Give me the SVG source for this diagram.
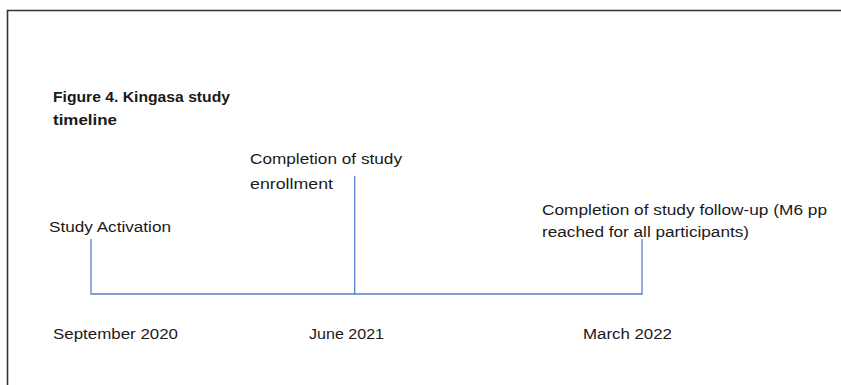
<svg xmlns="http://www.w3.org/2000/svg" width="841" height="385" viewBox="0 0 841 385">
  <style>
    text { font-family: "Liberation Sans", Arial, sans-serif; font-size: 15.5px; fill: #1a1a1a; }
    .title { font-weight: bold; }
    .frame { fill: none; stroke: #333333; stroke-width: 1.6; }
    .tick { fill: none; stroke: #5b7fc8; stroke-width: 1.3; }
  </style>
  <rect width="841" height="385" fill="#ffffff"/>
  <!-- outer frame (open on right and bottom) -->
  <path class="frame" d="M7.5 385 V10.5 H841"/>

  <g id="title">
    <text class="title" x="53" y="101.5" textLength="177" lengthAdjust="spacingAndGlyphs">Figure 4. Kingasa study</text>
    <text class="title" x="53" y="124.5" textLength="64" lengthAdjust="spacingAndGlyphs">timeline</text>
  </g>

  <!-- timeline axis and milestone ticks -->
  <g id="connectors">
    <path class="tick" d="M91 239 V294 H642 V239"/>
    <path class="tick" d="M354.7 176 V294"/>
  </g>

  <g id="milestone-activation">
    <text x="49" y="231.5" textLength="122" lengthAdjust="spacingAndGlyphs">Study Activation</text>
    <text x="53" y="339" textLength="125" lengthAdjust="spacingAndGlyphs">September 2020</text>
  </g>

  <g id="milestone-enrollment">
    <text x="250" y="163.5" textLength="152" lengthAdjust="spacingAndGlyphs">Completion of study</text>
    <text x="250" y="189" textLength="83" lengthAdjust="spacingAndGlyphs">enrollment</text>
    <text x="309" y="339" textLength="75" lengthAdjust="spacingAndGlyphs">June 2021</text>
  </g>

  <g id="milestone-followup">
    <text x="542" y="215" textLength="285" lengthAdjust="spacingAndGlyphs">Completion of study follow-up (M6 pp</text>
    <text x="542" y="237" textLength="207" lengthAdjust="spacingAndGlyphs">reached for all participants)</text>
    <text x="583" y="339" textLength="89" lengthAdjust="spacingAndGlyphs">March 2022</text>
  </g>
</svg>
